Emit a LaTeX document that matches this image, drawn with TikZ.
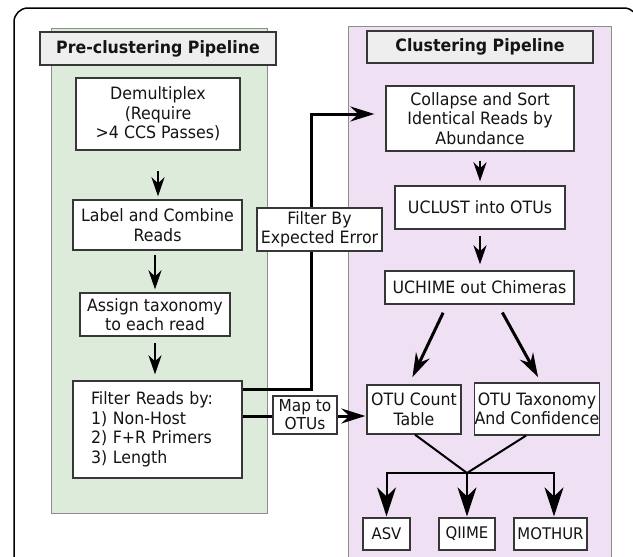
\documentclass[tikz,border=0pt]{standalone}
\usepackage{fontspec}
\setmainfont{DejaVu Sans}[FakeStretch=0.93]
\usetikzlibrary{arrows.meta,calc}
\definecolor{pgreen}{RGB}{221,235,218}
\definecolor{ppurple}{RGB}{239,224,243}
\definecolor{hdrfill}{RGB}{238,238,238}
\definecolor{edge}{RGB}{55,55,55}
\definecolor{txt}{RGB}{20,20,20}
\definecolor{pedge}{RGB}{140,140,140}
\tikzset{
  box/.style={draw=edge, line width=1.3pt, fill=white, align=center, inner sep=0pt, text=txt, font=\fontsize{17}{19.5}\selectfont},
  hdr/.style={box, fill=hdrfill, line width=1.5pt, font=\fontsize{17}{19.5}\selectfont\bfseries},
  smallbox/.style={box, font=\fontsize{16}{18}\selectfont},
  arr/.style={line width=2.5pt, -{Stealth[length=19pt,width=13pt,inset=6pt]}},
  bigarr/.style={line width=3pt, -{Stealth[length=24pt,width=15pt,inset=8pt]}},
  botarr/.style={line width=2pt, -{Stealth[length=29pt,width=19pt,inset=9pt]}},
  panel/.style={draw=pedge, line width=1pt}
}
\begin{document}
\begin{tikzpicture}[x=1pt,y=-1pt]
\useasboundingbox (0,0) rectangle (633,557);
\begin{scope}
\clip (0,0) rectangle (633,557);
\fill[white] (0,0) rectangle (633,557);
\draw[line width=1.5pt, rounded corners=14pt] (14,8) rectangle (638,600);
\filldraw[panel, fill=pgreen] (51,28) rectangle (267,513);
\filldraw[panel, fill=ppurple] (348,26) rectangle (611,600);
\end{scope}

% headers
\node[hdr, minimum width=236pt, minimum height=33pt] (hpre) at (158,48.5) {Pre-clustering Pipeline};
\node[hdr, minimum width=226pt, minimum height=32pt] (hclu) at (480,47) {Clustering Pipeline};

% left column
\node[box, minimum width=164pt, minimum height=72pt] (demux) at (158,114) {Demultiplex\\(Require\\>4 CCS Passes)};
\node[box, minimum width=169pt, minimum height=50pt] (label) at (157.5,225) {Label and Combine\\Reads};
\node[box, minimum width=150pt, minimum height=43pt] (assign) at (155,314.5) {Assign taxonomy\\to each read};
\node[box, minimum width=169pt, minimum height=97pt, text width=133pt, align=left] (filt) at (157.5,429.5) {Filter Reads by:\\1) Non-Host\\2) F+R Primers\\3) Length};

% right column
\node[box, minimum width=188pt, minimum height=65pt] (collapse) at (480,118.5) {Collapse and Sort\\Identical Reads by\\Abundance};
\node[box, minimum width=170pt, minimum height=43pt] (uclust) at (480,207.5) {UCLUST into OTUs};
\node[box, minimum width=189pt, minimum height=33pt] (uchime) at (479.5,287.5) {UCHIME out Chimeras};
\node[box, minimum width=94pt, minimum height=49pt] (cnt) at (414,409.5) {OTU Count\\Table};
\node[box, minimum width=124pt, minimum height=52pt] (tax) at (537,409) {OTU Taxonomy\\And Confidence};
\node[smallbox, minimum width=47pt, minimum height=32pt] (asv) at (386.5,534) {ASV};
\node[smallbox, minimum width=56pt, minimum height=32pt] (qiime) at (467,534) {QIIME};
\node[smallbox, minimum width=73pt, minimum height=32pt] (mothur) at (550.5,534) {MOTHUR};

% left arrows
\draw[arr, shorten <=20pt, shorten >=3pt] (demux.south) -- (demux.south |- label.north);
\draw[arr, shorten <=4pt, shorten >=3pt] (assign.north |- label.south) -- (assign.north);
\draw[arr, shorten <=6pt, shorten >=6pt] (assign.south) -- (assign.south |- filt.north);

% right arrows
\draw[arr, shorten <=9pt, shorten >=4pt] (collapse.south) -- (collapse.south |- uclust.north);
\draw[arr, shorten <=6pt, shorten >=6pt] (uclust.south) -- (uclust.south |- uchime.north);
\draw[bigarr, shorten <=9pt, shorten >=8pt] ([xshift=-32.5pt]uchime.south) -- ([xshift=-5pt]cnt.north);
\draw[bigarr, shorten <=9pt, shorten >=6pt] ([xshift=18.5pt]uchime.south) -- ([xshift=4pt]tax.north);

% cross connectors
\coordinate (up) at (311,114);
\draw[bigarr, shorten >=11pt] ([yshift=-9pt]filt.north east) -| (up) -- ([yshift=4.5pt]collapse.west);
\draw[bigarr, shorten >=1pt] ([yshift=13.5pt]filt.east) -- ([yshift=-6.5pt]cnt.west);
\node[box, minimum width=125pt, minimum height=43pt] (fee) at (319.5,229.5) {Filter By\\Expected Error};
\node[box, minimum width=64pt, minimum height=38pt, font=\fontsize{16.5}{18}\selectfont] (mapn) at (305,415) {Map to\\OTUs};

% bottom fan
\coordinate (j) at (467,473);
\draw[line width=2pt] ([xshift=1pt]cnt.south) -- (j) -- ([xshift=-11pt]tax.south);
\draw[botarr, shorten >=1pt] (j) -| (asv.north);
\draw[botarr, shorten >=1pt] (j) -- (qiime.north);
\draw[botarr, shorten >=1pt] (j) -| ([xshift=3.5pt]mothur.north);
\end{tikzpicture}
\end{document}
